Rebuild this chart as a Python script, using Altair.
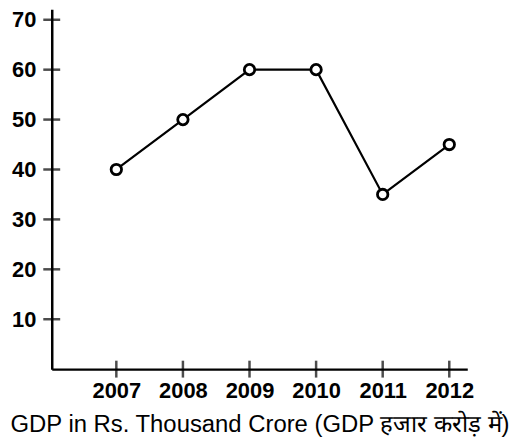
import altair as alt
import pandas as pd

years = [2007, 2008, 2009, 2010, 2011, 2012]
gdp = [40, 50, 60, 60, 35, 45]
y_ticks = [10, 20, 30, 40, 50, 60, 70]
x_title = "GDP in Rs. Thousand Crore (GDP हजार करोड़ में)"

df = pd.DataFrame({"year": years, "gdp": gdp})
ydf = pd.DataFrame({"v": y_ticks})

W, H = 418, 362
xscale = alt.Scale(domain=[2006.03, 2012.27], nice=False, zero=False)
yscale = alt.Scale(domain=[0, 72.1], nice=False)

xaxis = alt.Axis(values=years, format="d", ticks=False, grid=False,
                 labelFont="Liberation Sans", labelFontSize=22, labelFontWeight="bold",
                 labelColor="black", labelPadding=12, domainColor="black", domainWidth=2.5,
                 title=x_title, titleFont="Liberation Sans", titleFontSize=24,
                 titleFontWeight="normal", titleColor="black", titleY=63,
                 titleBaseline="alphabetic")
yaxis = alt.Axis(values=y_ticks, ticks=False, grid=False,
                 labelFont="Liberation Sans", labelFontSize=22, labelFontWeight="bold",
                 labelColor="black", labelPadding=16, domainColor="black", domainWidth=2.5,
                 title=None)

base = alt.Chart(df)
line = base.mark_line(color="black", strokeWidth=2.2).encode(
    x=alt.X("year:Q", scale=xscale, axis=xaxis),
    y=alt.Y("gdp:Q", scale=yscale, axis=yaxis),
)
pts = base.mark_point(shape="circle", size=110, filled=False, fill="white", fillOpacity=1,
                      color="black", strokeWidth=2.8, opacity=1).encode(
    x=alt.X("year:Q", scale=xscale),
    y=alt.Y("gdp:Q", scale=yscale),
)
xt = base.mark_tick(color="black", size=17, thickness=2.5, orient="vertical").encode(
    x=alt.X("year:Q", scale=xscale),
    y=alt.value(H),
)
yt = alt.Chart(ydf).mark_tick(color="black", size=17, thickness=2.5, orient="horizontal").encode(
    y=alt.Y("v:Q", scale=yscale),
    x=alt.value(0),
)

chart = alt.layer(line, xt, yt, pts).properties(
    width=W, height=H,
    autosize=alt.AutoSizeParams(type="none"),
    padding={"left": 44, "top": 0, "right": 44, "bottom": 70},
).configure(background="white").configure_view(stroke=None, strokeWidth=0)

chart.save("out.html", embed_options={"renderer": "svg", "actions": False})
